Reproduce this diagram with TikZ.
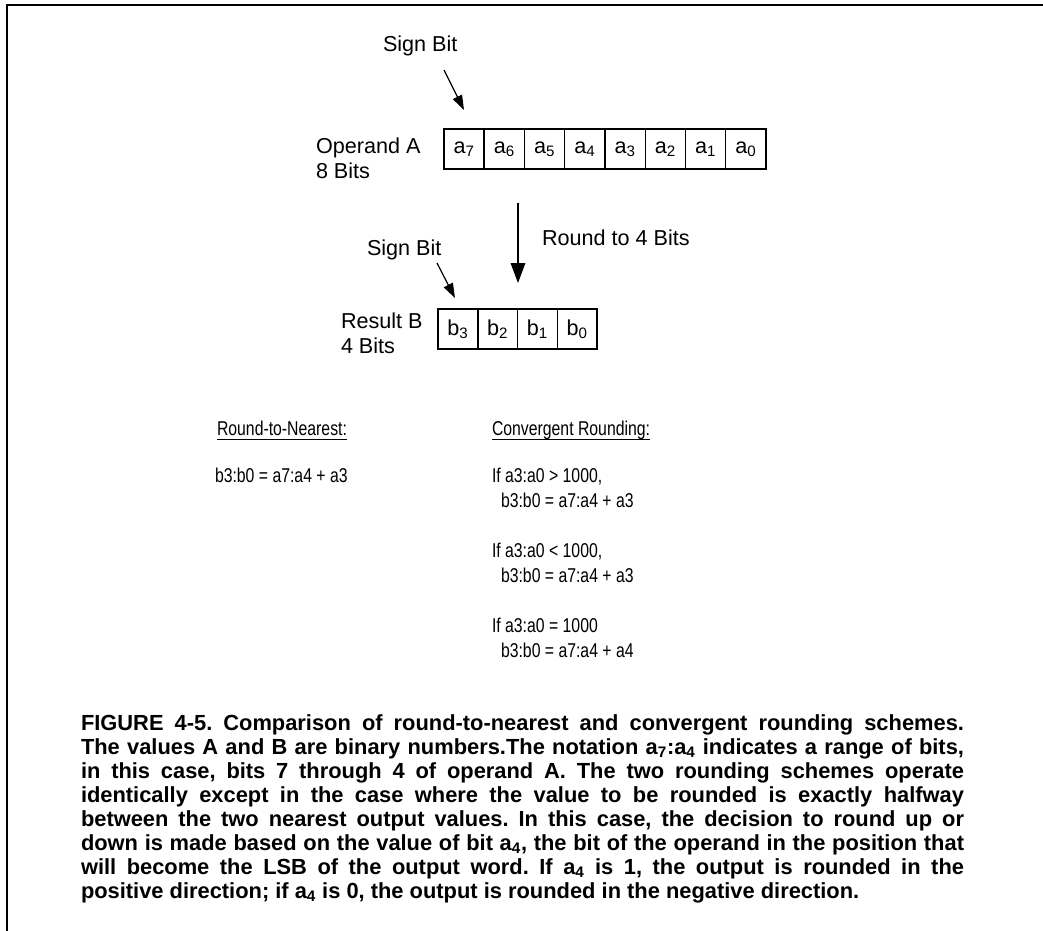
\documentclass[tikz,border=0pt]{standalone}
\usepackage{fontspec}
\setmainfont{Liberation Sans}
\newfontfamily\narrowsans[FakeStretch=0.79]{Liberation Sans}
\usetikzlibrary{arrows.meta}
\begin{document}
\frenchspacing
\begin{tikzpicture}[x=0.75pt,y=-0.75pt,
  every node/.style={inner sep=0pt,outer sep=0pt},
  lbl/.style={anchor=base west,font=\fontsize{16.2}{19}\selectfont},
  eqn/.style={anchor=base west,font=\narrowsans\fontsize{15}{17}\selectfont},
  bitcell/.style={draw,line width=0.9pt,minimum height=30pt,font=\fontsize{16.2}{19}\selectfont},
  acell/.style={bitcell,minimum width=30.19pt},
  bcell/.style={bitcell,minimum width=29.81pt},
  ptr/.style={line width=0.9pt,-{Triangle[width=7.5pt,length=11pt]}},
  bigptr/.style={line width=0.9pt,-{Triangle[width=11pt,length=15pt]}},
  uline/.style={line width=0.8pt}]
\useasboundingbox (0,0) rectangle (1043,931);
% frame along the top and left edges
\draw[line width=1.5pt] (1043,5) -- (7,5) -- (7,931);

% operand A, 8 bits
\node[lbl] (signA) at (383,52) {Sign Bit};
\node[lbl] (opA) at (316,153) {Operand A};
\node[lbl] (opAbits) at (316,178) {8 Bits};
\foreach \i in {7,...,0}
  \node[acell] (a\i) at ({464.125+(7-\i)*40.25},149) {a\textsubscript{\i}};
\draw[line width=1.6pt] (a7.south west) rectangle (a7.north east);
\coordinate (signAtail) at (444,70);
\coordinate (signAhead) at (464,110);
\draw[ptr] (signAtail) -- (signAhead);

% rounding step
\coordinate (rndtop) at (518,203);
\coordinate (rndbot) at (518,283);
\draw[bigptr] (rndtop) -- (rndbot);
\node[lbl] (rnd) at (542,245) {Round to 4 Bits};

% result B, 4 bits
\node[lbl] (signB) at (367,255) {Sign Bit};
\node[lbl] (resB) at (341,328) {Result B};
\node[lbl] (resBbits) at (341,353) {4 Bits};
\foreach \i in {3,...,0}
  \node[bcell] (b\i) at ({457.875+(3-\i)*39.75},329) {b\textsubscript{\i}};
\draw[line width=1.6pt] (b3.south west) rectangle (b3.north east);
\coordinate (signBtail) at (437,263);
\coordinate (signBhead) at (455,298);
\draw[ptr] (signBtail) -- (signBhead);

% rounding rules
\node[eqn] (rtn) at (217,435) {Round-to-Nearest:};
\draw[uline] ([yshift=-3.6pt]rtn.base west) -- ([yshift=-3.6pt]rtn.base east);
\node[eqn] (conv) at (492,435) {Convergent Rounding:};
\draw[uline] ([yshift=-3.6pt]conv.base west) -- ([yshift=-3.6pt]conv.base east);
\node[eqn] (rtneq) at (215,482) {b3:b0 = a7:a4 + a3};
\node[eqn] (gt) at (492,482) {If a3:a0 > 1000,};
\node[eqn] (gteq) at (501,507) {b3:b0 = a7:a4 + a3};
\node[eqn] (lt) at (492,557) {If a3:a0 < 1000,};
\node[eqn] (lteq) at (501,582) {b3:b0 = a7:a4 + a3};
\node[eqn] (eq) at (492,632) {If a3:a0 = 1000};
\node[eqn] (eqeq) at (501,657) {b3:b0 = a7:a4 + a4};

% caption
\node[anchor=base west] (cap) at (81,730) {\parbox[t]{662.25pt}{\fontsize{16.4}{18}\bfseries
\makebox[\linewidth][s]{FIGURE 4-5. Comparison of round-to-nearest and convergent rounding schemes.}\\
\makebox[\linewidth][s]{The values A and B are binary numbers.The notation a\textsubscript{7}:a\textsubscript{4} indicates a range of bits,}\\
\makebox[\linewidth][s]{in this case, bits 7 through 4 of operand A. The two rounding schemes operate}\\
\makebox[\linewidth][s]{identically except in the case where the value to be rounded is exactly halfway}\\
\makebox[\linewidth][s]{between the two nearest output values. In this case, the decision to round up or}\\
\makebox[\linewidth][s]{down is made based on the value of bit a\textsubscript{4}, the bit of the operand in the position that}\\
\makebox[\linewidth][s]{will become the LSB of the output word. If a\textsubscript{4} is 1, the output is rounded in the}\\
positive direction; if a\textsubscript{4} is 0, the output is rounded in the negative direction.}};
\end{tikzpicture}
\end{document}
